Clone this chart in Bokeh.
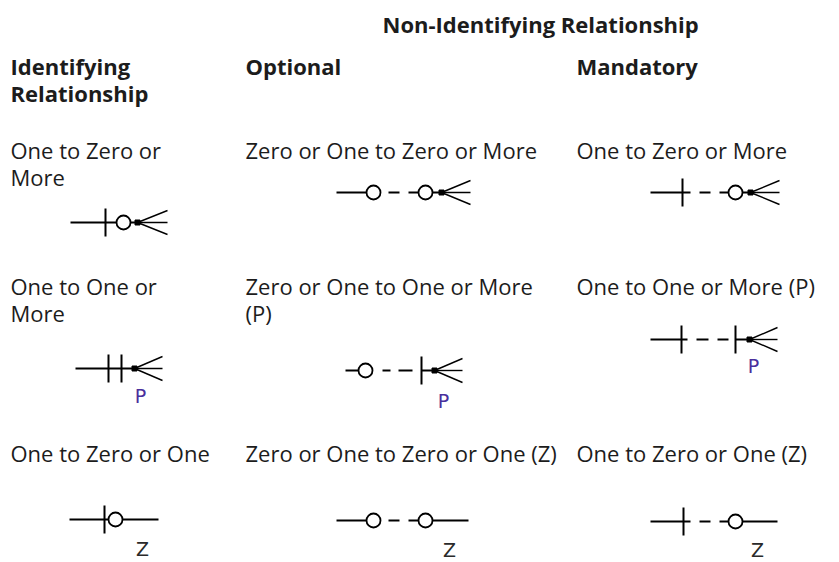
from bokeh.plotting import figure
from bokeh.models import Range1d
from bokeh.core.properties import value
from bokeh.embed import file_html
from bokeh.resources import INLINE

# ---------------- data ----------------
title = "Non-Identifying Relationship"
group_headers = ["Identifying\nRelationship", "Optional", "Mandatory"]
cell_labels = [
    ["One to Zero or\nMore", "Zero or One to Zero or More", "One to Zero or More"],
    ["One to One or\nMore", "Zero or One to One or More\n(P)", "One to One or More (P)"],
    ["One to Zero or One", "Zero or One to Zero or One (Z)", "One to Zero or One (Z)"],
]
cell_letters = [["", "", ""], ["P", "P", "P"], ["Z", "Z", "Z"]]

# layout (page pixel coordinates)
col_x = [10, 245, 576]
row_y = [149, 285, 452]
header_y = 65
title_xy = (382, 23)
line_step = 27

# symbol geometry: anchor + parts (relative x)
symbols = [
    [((70, 222), [("line", 0, 67), ("tick", 35), ("circle", 53), ("dot", 67), ("crow", 67, 97)], None),
     ((336, 192), [("line", 0, 30), ("circle", 37), ("line", 52, 63), ("line", 72, 105), ("circle", 89), ("dot", 105), ("crow", 105, 134)], None),
     ((650, 192), [("line", 0, 40), ("tick", 32), ("line", 49, 60), ("line", 69, 100), ("circle", 85), ("dot", 100), ("crow", 100, 129)], None)],
    [((75, 368), [("line", 0, 59), ("tick", 33), ("tick", 46), ("dot", 59), ("crow", 59, 87)], (65, 27)),
     ((345, 370), [("line", 0, 14), ("circle", 20), ("line", 37, 45), ("line", 53, 67), ("tick", 76), ("line", 76, 89), ("dot", 89), ("crow", 89, 117)], (98, 30)),
     ((650, 339), [("line", 0, 37), ("tick", 31), ("line", 46, 58), ("line", 67, 78), ("tick", 85), ("line", 85, 99), ("dot", 99), ("crow", 99, 127)], (103, 26))],
    [((69, 519), [("line", 0, 89), ("tick", 35), ("circle", 46)], (73, 29)),
     ((336, 520), [("line", 0, 30), ("circle", 37), ("line", 52, 63), ("line", 72, 132), ("circle", 89)], (113, 29)),
     ((650, 521), [("line", 0, 40), ("tick", 33), ("line", 49, 60), ("line", 69, 127), ("circle", 85)], (107, 28))],
]

W, H = 839, 562
p = figure(width=W, height=H, x_range=Range1d(0, W), y_range=Range1d(H, 0),
           output_backend="svg", toolbar_location=None, min_border=0,
           x_axis_type=None, y_axis_type=None)
p.grid.visible = False
p.outline_line_color = None
p.background_fill_color = "white"
p.border_fill_color = "white"

FONT = value("Open Sans")
TXT = "#1c1c1c"
FS = "22px"

# title
p.text(x=[title_xy[0]], y=[title_xy[1]], text=[title], text_font=FONT, text_font_size=FS,
       text_font_style="bold", text_color=TXT, text_baseline="middle", text_align="left")

# headers
hx, hy, ht = [], [], []
for i, h in enumerate(group_headers):
    for k, ln in enumerate(h.split("\n")):
        hx.append(col_x[i]); hy.append(header_y + k * line_step); ht.append(ln)
p.text(x=hx, y=hy, text=ht, text_font=FONT, text_font_size=FS, text_font_style="bold",
       text_color=TXT, text_baseline="middle", text_align="left")

# cell labels
cx, cy, ct = [], [], []
for r, row in enumerate(cell_labels):
    for c, lab in enumerate(row):
        for k, ln in enumerate(lab.split("\n")):
            cx.append(col_x[c]); cy.append(row_y[r] + k * line_step); ct.append(ln)
p.text(x=cx, y=cy, text=ct, text_font=FONT, text_font_size=FS,
       text_color=TXT, text_baseline="middle", text_align="left")

# symbols
seg = dict(x0=[], y0=[], x1=[], y1=[])
crow = dict(x0=[], y0=[], x1=[], y1=[])
circ = dict(x=[], y=[])
dots = dict(x=[], y=[])
lx, ly, lt = [], [], []
T = 14
for r in range(3):
    for c in range(3):
        (ax, ay), parts, lpos = symbols[r][c]
        for part in parts:
            kind = part[0]
            if kind == "line":
                seg["x0"].append(ax + part[1]); seg["x1"].append(ax + part[2])
                seg["y0"].append(ay); seg["y1"].append(ay)
            elif kind == "tick":
                seg["x0"].append(ax + part[1]); seg["x1"].append(ax + part[1])
                seg["y0"].append(ay - T); seg["y1"].append(ay + T)
            elif kind == "circle":
                circ["x"].append(ax + part[1]); circ["y"].append(ay)
            elif kind == "dot":
                dots["x"].append(ax + part[1]); dots["y"].append(ay)
            elif kind == "crow":
                for dy in (-12, 0, 12):
                    crow["x0"].append(ax + part[1]); crow["y0"].append(ay)
                    crow["x1"].append(ax + part[2]); crow["y1"].append(ay + dy)
        if lpos is not None and cell_letters[r][c]:
            lx.append(ax + lpos[0]); ly.append(ay + lpos[1]); lt.append(cell_letters[r][c])

p.segment(**seg, line_color="black", line_width=2)
p.segment(**crow, line_color="black", line_width=1.4)
p.scatter(**circ, marker="circle", size=14, fill_color="white", line_color="black", line_width=1.8)
p.scatter(**dots, marker="square", size=5, fill_color="black", line_color="black")

colors = ["#4a2f9c" if t == "P" else "#2a2a2a" for t in lt]
p.text(x=lx, y=ly, text=lt, text_color=colors, text_font=value("DejaVu Sans"),
       text_font_size="19px", text_baseline="middle", text_align="center")

open("out.html", "w").write(file_html(p, INLINE))
